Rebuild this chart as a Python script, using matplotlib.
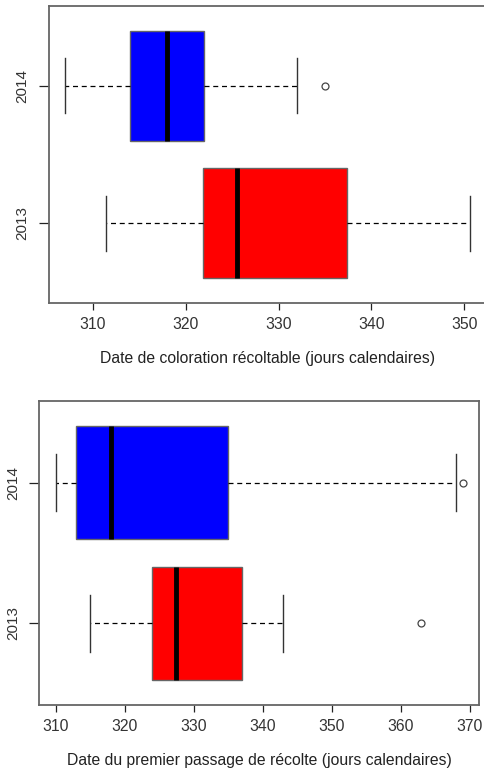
import matplotlib
matplotlib.use("Agg")
import matplotlib.pyplot as plt

plt.rcParams['font.family'] = ['Liberation Sans', 'DejaVu Sans']

years = ["2013", "2014"]
colors = ["#ff0000", "#0000ff"]

# Panel 1: date de coloration récoltable
p1_stats = {
    "2013": dict(whislo=311.4, q1=321.8, med=325.5, q3=337.4, whishi=350.6, fliers=[]),
    "2014": dict(whislo=307.0, q1=314.0, med=318.0, q3=322.0, whishi=332.0, fliers=[335.0]),
}
p1_xlim = (305.26, 352.34)
p1_ticks = [310, 320, 330, 340, 350]
p1_label = "Date de coloration récoltable (jours calendaires)"

# Panel 2: date du premier passage de récolte
p2_stats = {
    "2013": dict(whislo=315.0, q1=324.0, med=327.5, q3=337.0, whishi=343.0, fliers=[363.0]),
    "2014": dict(whislo=310.0, q1=313.0, med=318.0, q3=335.0, whishi=368.0, fliers=[369.0]),
}
p2_xlim = (307.64, 371.36)
p2_ticks = [310, 320, 330, 340, 350, 360, 370]
p2_label = "Date du premier passage de récolte (jours calendaires)"

fig = plt.figure(figsize=(4.84, 7.74), dpi=100)
ax1 = fig.add_axes([0.1012, 0.6085, 0.903, 0.3834])
ax2 = fig.add_axes([0.0812, 0.0891, 0.9085, 0.3928])

def draw(ax, stats, xlim, ticks, label):
    bxp = []
    for y in years:
        s = dict(stats[y])
        s["label"] = y
        bxp.append(s)
    parts = ax.bxp(bxp, positions=[1, 2], widths=0.8, vert=False, patch_artist=True,
                   showfliers=True,
                   boxprops=dict(edgecolor="#666666", linewidth=1.0),
                   medianprops=dict(color="black", linewidth=3.5, solid_capstyle="butt"),
                   whiskerprops=dict(color="black", linewidth=0.9, linestyle=(0, (4, 3))),
                   capprops=dict(color="#333333", linewidth=1.0),
                   flierprops=dict(marker="o", markersize=5, markerfacecolor="none",
                                   markeredgecolor="#444444", markeredgewidth=0.9))
    for patch, c in zip(parts["boxes"], colors):
        patch.set_facecolor(c)
    ax.set_xlim(*xlim)
    ax.set_ylim(0.42, 2.58)
    ax.set_xticks(ticks)
    ax.set_xticklabels([str(t) for t in ticks])
    ax.set_yticks([1, 2])
    ax.set_yticklabels(years, rotation=90, va="center")
    ax.tick_params(axis="both", colors="#222222", labelcolor="#333333", width=0.9)
    ax.tick_params(axis="x", pad=5, length=5, labelsize=11.3)
    ax.tick_params(axis="y", pad=7, length=7, labelsize=11)
    for sp in ax.spines.values():
        sp.set_color("#666666")
        sp.set_linewidth(1.3)
    ax.set_xlabel(label, fontsize=11.3, color="#222222", labelpad=14)

draw(ax1, p1_stats, p1_xlim, p1_ticks, p1_label)
draw(ax2, p2_stats, p2_xlim, p2_ticks, p2_label)

fig.savefig("out.png", dpi=100)
